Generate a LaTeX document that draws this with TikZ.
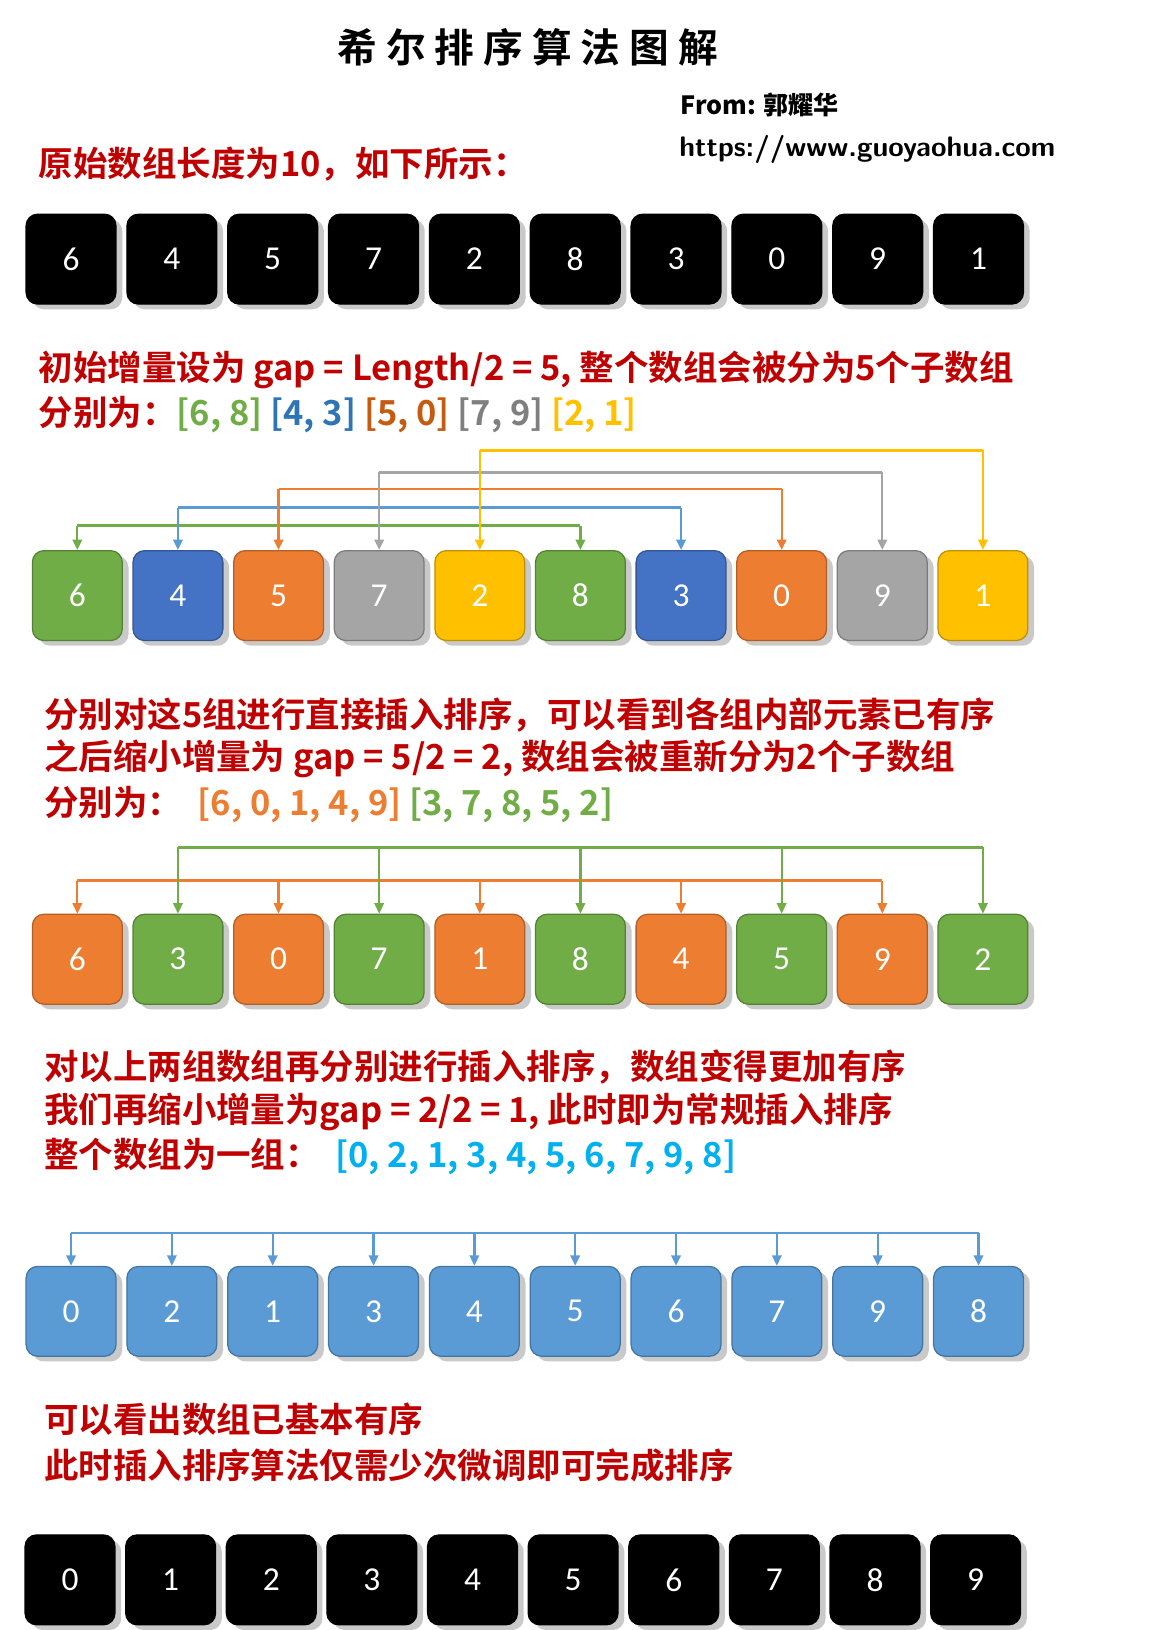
\documentclass[tikz,border=0pt]{standalone}
\usepackage{fontspec}
\setmainfont{Noto Sans CJK SC}
\newfontfamily\cjkb{Noto Sans CJK SC}[BoldFont={* Bold}]
\newfontfamily\numf{Carlito}
\usetikzlibrary{shadows,arrows.meta}
\definecolor{cg}{HTML}{70AD47}
\definecolor{cb}{HTML}{4472C4}
\definecolor{co}{HTML}{ED7D31}
\definecolor{cy}{HTML}{A5A5A5}
\definecolor{cyl}{HTML}{FFC000}
\definecolor{clb}{HTML}{5B9BD5}
\definecolor{cred}{HTML}{C00000}
\definecolor{tb}{HTML}{2E75B6}
\definecolor{tor}{HTML}{C55A11}
\definecolor{tgy}{HTML}{7F7F7F}
\definecolor{tcy}{HTML}{00B0F0}
\tikzset{
 cell/.style={rounded corners=11pt,minimum width=86pt,minimum height=86pt,draw=#1!75!black,fill=#1,line width=1.2pt,
   text=white,font=\numf\fontsize{32}{32}\selectfont,
   drop shadow={shadow xshift=6pt,shadow yshift=-5pt,opacity=0.35,fill=black!60}},
 line/.style={draw=#1,line width=2.6pt},
 arr/.style={draw=#1,line width=2.2pt,-{Triangle[length=10pt,width=9pt]}},
 redtxt/.style={anchor=west,text=cred,font=\cjkb\bfseries\fontsize{33}{33}\selectfont,inner sep=0pt},
}
\begin{document}
\begin{tikzpicture}[x=1pt,y=-1pt]
\useasboundingbox[fill=white] (0,0) rectangle (1122,1560);
\node[font=\cjkb\bfseries\fontsize{38}{38}\selectfont] (title) at (505,45) {希 尔 排 序 算 法 图 解};
\node[font=\cjkb\bfseries\itshape\fontsize{24}{24}\selectfont,anchor=west] (from) at (648,100) {\textit{From:} 郭耀华};
\node[font=\sffamily\bfseries\fontsize{27}{27}\selectfont,anchor=west,inner sep=0pt] (url) at (650,143) {https://www.guoyaohua.com};
\node[redtxt] (l1) at (37,157) {原始数组长度为10，如下所示：};
% row 1
\foreach \v [count=\i] in {6,4,5,7,2,8,3,0,9,1}
  \node[cell=black] (a\i) at ({68+(\i-1)*96.5},248) {\v};
\node[redtxt] (l2) at (37,354) {初始增量设为 gap = Length/2 = 5, 整个数组会被分为5个子数组};
\node[redtxt] (l3) at (37,397) {分别为：\textcolor{cg}{[6, 8]} \textcolor{tb}{[4, 3]} \textcolor{tor}{[5, 0]} \textcolor{tgy}{[7, 9]} \textcolor{cyl}{[2, 1]}};
% row 2
\foreach \v/\c [count=\i] in {6/cg,4/cb,5/co,7/cy,2/cyl,8/cg,3/cb,0/co,9/cy,1/cyl}
  \node[cell=\c] (b\i) at ({74+(\i-1)*96.3},570) {\v};
\foreach \p/\q/\c/\h in {1/6/cg/503,2/7/clb/486,3/8/co/468,4/9/cy/452,5/10/cyl/431}{
  \draw[arr=\c] (b\p.north |- 0,\h) -- (b\p.north);
  \draw[arr=\c] (b\q.north |- 0,\h) -- (b\q.north);
  \draw[line=\c] (b\p.north |- 0,\h) -- (b\q.north |- 0,\h);
}
\node[redtxt] (l4) at (42,684) {分别对这5组进行直接插入排序，可以看到各组内部元素已有序};
\node[redtxt] (l5) at (42,726) {之后缩小增量为 gap = 5/2 = 2, 数组会被重新分为2个子数组};
\node[redtxt] (l6) at (42,770) {分别为：\ \ \textcolor{co}{[6, 0, 1, 4, 9]} \textcolor{cg}{[3, 7, 8, 5, 2]}};
% row 3
\foreach \v/\c [count=\i] in {6/co,3/cg,0/co,7/cg,1/co,8/cg,4/co,5/cg,9/co,2/cg}
  \node[cell=\c] (c\i) at ({74+(\i-1)*96.3},918) {\v};
\draw[line=co] (c1.north |- 0,843) -- (c9.north |- 0,843);
\foreach \i in {1,3,5,7,9} \draw[arr=co] (c\i.north |- 0,843) -- (c\i.north);
\draw[line=cg] (c2.north |- 0,811) -- (c10.north |- 0,811);
\foreach \i in {2,4,6,8,10} \draw[arr=cg] (c\i.north |- 0,811) -- (c\i.north);
\node[redtxt] (l7) at (42,1021) {对以上两组数组再分别进行插入排序，数组变得更加有序};
\node[redtxt] (l8) at (42,1064) {我们再缩小增量为gap = 2/2 = 1, 此时即为常规插入排序};
\node[redtxt] (l9) at (42,1107) {整个数组为一组：\ \ \textcolor{tcy}{[0, 2, 1, 3, 4, 5, 6, 7, 9, 8]}};
% row 4
\foreach \v [count=\i] in {0,2,1,3,4,5,6,7,9,8}
  \node[cell=clb] (d\i) at ({68+(\i-1)*96.5},1255) {\v};
\draw[line=clb] (d1.north |- 0,1180) -- (d10.north |- 0,1180);
\foreach \i in {1,...,10} \draw[arr=clb] (d\i.north |- 0,1180) -- (d\i.north);
\node[redtxt] (l10) at (42,1358) {可以看出数组已基本有序};
\node[redtxt] (l11) at (42,1402) {此时插入排序算法仅需少次微调即可完成排序};
% row 5
\foreach \v [count=\i] in {0,1,2,3,4,5,6,7,8,9}
  \node[cell=black] (e\i) at ({67+(\i-1)*96.3},1512) {\v};
\end{tikzpicture}
\end{document}
